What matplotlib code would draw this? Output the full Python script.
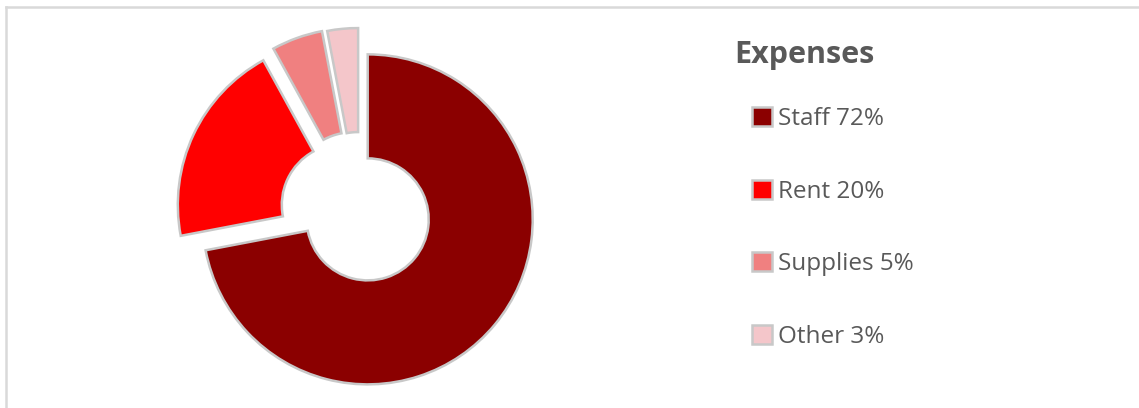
import matplotlib
matplotlib.use("Agg")
import matplotlib.pyplot as plt
from matplotlib.lines import Line2D

# Data
categories = ["Staff", "Rent", "Supplies", "Other"]
values = [72, 20, 5, 3]
legend_labels = [f"{c} {v}%" for c, v in zip(categories, values)]
title = "Expenses"

# Styles
colors = ["#8b0000", "#ff0000", "#f08080", "#f4c6ca"]
W, H = 1139, 408
radius = 165
center = (360, H - 213)
explode = [10, 19, 21, 20]  # in pixel units

fig = plt.figure(figsize=(W / 100, H / 100), dpi=100)
ax = fig.add_axes([0, 0, 1, 1])

wedges, _ = ax.pie(values, radius=radius, center=center, explode=explode,
                   startangle=90, counterclock=False, colors=colors,
                   wedgeprops=dict(width=radius - 61, edgecolor="#c8c8c8",
                                   linewidth=1.8))
ax.set_xlim(0, W)
ax.set_ylim(0, H)
ax.set_aspect("equal")
ax.axis("off")

# frame lines (top and left)
ax.add_line(Line2D([6, W], [H - 7, H - 7], color="#d9d9d9", lw=1.8))
ax.add_line(Line2D([6, 6], [0, H - 7], color="#d9d9d9", lw=1.8))

ax.text(734, H - 63, title, fontsize=22, fontweight="bold", color="#595959",
        family="Open Sans", va="baseline", ha="left")

leg = ax.legend(wedges, legend_labels, loc="upper left",
                bbox_to_anchor=(730 / W, (H - 85) / H),
                frameon=False, labelspacing=2.0, handlelength=0.84,
                handleheight=0.84, handletextpad=0.22,
                prop=dict(family="Open Sans", size=17.5))
for t in leg.get_texts():
    t.set_color("#595959")

fig.savefig("out.png", dpi=100)
